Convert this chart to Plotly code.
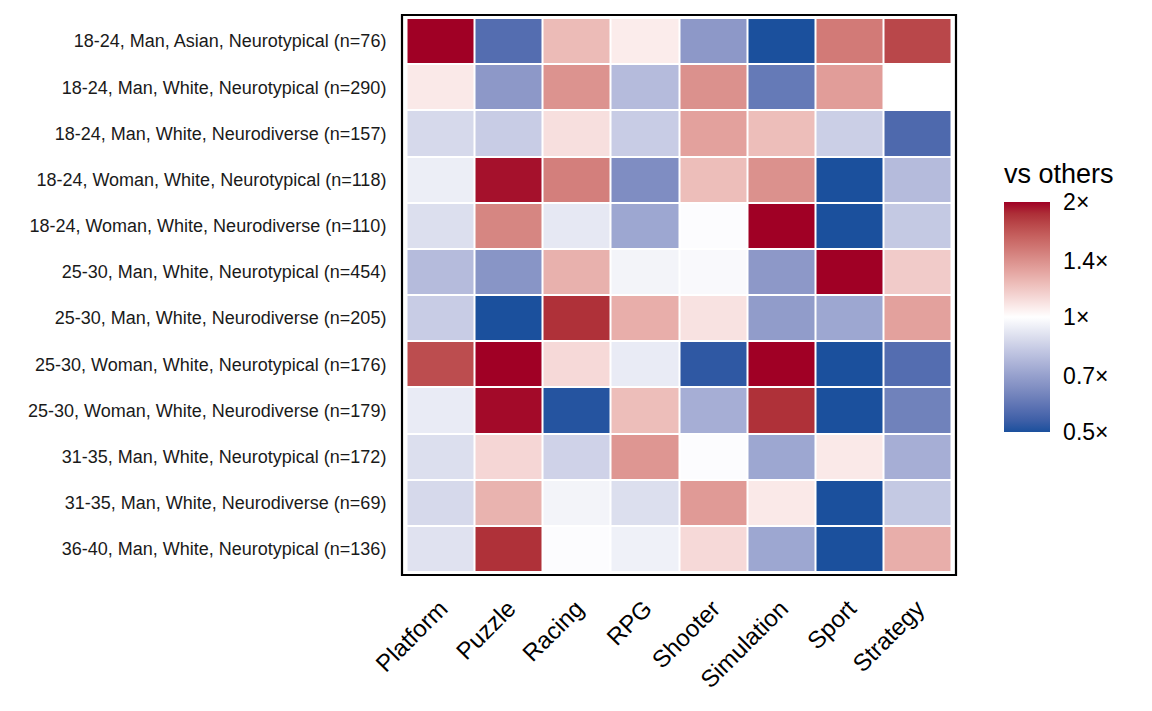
import numpy as np
import plotly.graph_objects as go

groups = [
    "18-24, Man, Asian, Neurotypical (n=76)",
    "18-24, Man, White, Neurotypical (n=290)",
    "18-24, Man, White, Neurodiverse (n=157)",
    "18-24, Woman, White, Neurotypical (n=118)",
    "18-24, Woman, White, Neurodiverse (n=110)",
    "25-30, Man, White, Neurotypical (n=454)",
    "25-30, Man, White, Neurodiverse (n=205)",
    "25-30, Woman, White, Neurotypical (n=176)",
    "25-30, Woman, White, Neurodiverse (n=179)",
    "31-35, Man, White, Neurotypical (n=172)",
    "31-35, Man, White, Neurodiverse (n=69)",
    "36-40, Man, White, Neurotypical (n=136)",
]
genres = ["Platform", "Puzzle", "Racing", "RPG", "Shooter", "Simulation", "Sport", "Strategy"]

# ratio vs others, one list per genre (rows in the order of `groups`)
platform   = [2.20, 1.07, 0.87, 0.94, 0.89, 0.78, 0.83, 1.72, 0.93, 0.89, 0.87, 0.90]
puzzle     = [0.57, 0.68, 0.83, 1.95, 1.45, 0.67, 0.48, 2.20, 1.97, 1.13, 1.26, 1.85]
racing     = [1.23, 1.39, 1.10, 1.48, 0.92, 1.27, 1.85, 1.12, 0.51, 0.85, 0.96, 0.99]
rpg        = [1.06, 0.78, 0.83, 0.65, 0.72, 0.96, 1.28, 0.93, 1.22, 1.38, 0.89, 0.95]
shooter    = [0.68, 1.40, 1.33, 1.22, 0.99, 0.98, 1.09, 0.52, 0.74, 0.99, 1.36, 1.12]
simulation = [0.45, 0.60, 1.22, 1.40, 2.20, 0.68, 0.69, 2.20, 1.85, 0.72, 1.07, 0.72]
sport      = [1.50, 1.35, 0.84, 0.45, 0.45, 2.20, 0.72, 0.45, 0.45, 1.07, 0.45, 0.45]
strategy   = [1.75, 1.00, 0.56, 0.78, 0.82, 1.17, 1.33, 0.57, 0.62, 0.74, 0.82, 1.28]

tick_vals_ratio = [0.5, 0.7, 1, 1.4, 2]
tick_text = ["0.5×", "0.7×", "1×", "1.4×", "2×"]

cols = [platform, puzzle, racing, rpg, shooter, simulation, sport, strategy]
ratio = np.array(cols).T
z = np.clip(np.log2(ratio), -1, 1)


# Lab-interpolated diverging colour scale (like ggplot gradient2)
def srgb_to_lab(c):
    c = np.array(c) / 255.0
    c = np.where(c > 0.04045, ((c + 0.055) / 1.055) ** 2.4, c / 12.92)
    M = np.array([[0.4124, 0.3576, 0.1805], [0.2126, 0.7152, 0.0722], [0.0193, 0.1192, 0.9505]])
    xyz = M @ c
    xyz = xyz / np.array([0.95047, 1.0, 1.08883])
    f = np.where(xyz > 0.008856, np.cbrt(xyz), 7.787 * xyz + 16 / 116)
    return np.array([116 * f[1] - 16, 500 * (f[0] - f[1]), 200 * (f[1] - f[2])])


def lab_to_srgb(lab):
    L, a, b = lab
    fy = (L + 16) / 116
    fx = fy + a / 500
    fz = fy - b / 200
    f = np.array([fx, fy, fz])
    xyz = np.where(f ** 3 > 0.008856, f ** 3, (f - 16 / 116) / 7.787)
    xyz = xyz * np.array([0.95047, 1.0, 1.08883])
    Mi = np.array([[3.2406, -1.5372, -0.4986], [-0.9689, 1.8758, 0.0415], [0.0557, -0.2040, 1.0570]])
    c = Mi @ xyz
    c = np.clip(c, 0, 1)
    c = np.where(c > 0.0031308, 1.055 * c ** (1 / 2.4) - 0.055, 12.92 * c)
    c = np.clip(np.round(c * 255), 0, 255).astype(int)
    return f"rgb({c[0]},{c[1]},{c[2]})"


low = srgb_to_lab((27, 80, 157))
mid = srgb_to_lab((255, 255, 255))
high = srgb_to_lab((160, 0, 37))
colorscale = []
n = 20
for i in range(n + 1):
    t = i / n
    if t <= 0.5:
        lab = low + (mid - low) * (t / 0.5)
    else:
        lab = mid + (high - mid) * ((t - 0.5) / 0.5)
    colorscale.append([t, lab_to_srgb(lab)])

font_family = "Liberation Sans, Arial, sans-serif"

# layout geometry (pixels)
W, H = 1152, 711
L_M, R_M, T_M, B_M = 402, 196, 15, 136
pw, ph = W - L_M - R_M, H - T_M - B_M
cb_left, cb_thick = 1004, 46
cb_center, cb_len = 317, 230


def px_to_paper_x(px):
    return (px - L_M) / pw


def py_to_paper_y(py):
    return (H - B_M - py) / ph


fig = go.Figure(
    go.Heatmap(
        z=z,
        x=list(range(len(genres))),
        y=list(range(len(groups))),
        customdata=ratio,
        zmin=-1,
        zmax=1,
        colorscale=colorscale,
        xgap=2,
        ygap=2,
        hovertemplate="%{customdata:.2f}×<extra></extra>",
        colorbar=dict(
            tickvals=list(np.log2(tick_vals_ratio)),
            ticktext=tick_text,
            tickfont=dict(size=23, color="#000000", family=font_family),
            ticks="outside",
            ticklen=9,
            tickcolor="rgba(0,0,0,0)",
            outlinewidth=0,
            thickness=cb_thick,
            thicknessmode="pixels",
            len=cb_len,
            lenmode="pixels",
            x=px_to_paper_x(cb_left),
            xanchor="left",
            y=py_to_paper_y(cb_center),
            yanchor="middle",
            xpad=0,
            ypad=0,
        ),
    )
)

# white tick marks inside the colour bar (both sides), like ggplot
shapes = [
    dict(type="rect", xref="paper", yref="paper", x0=0, x1=1, y0=0, y1=1,
         line=dict(color="black", width=2.2), fillcolor="rgba(0,0,0,0)")
]
for v in np.log2(tick_vals_ratio[1:-1]):
    py = cb_center - v * (cb_len / 2)
    yp = py_to_paper_y(py)
    for a, b in [(cb_left, cb_left + 9), (cb_left + cb_thick - 9, cb_left + cb_thick)]:
        shapes.append(dict(type="line", xref="paper", yref="paper",
                           x0=px_to_paper_x(a), x1=px_to_paper_x(b), y0=yp, y1=yp,
                           line=dict(color="white", width=1)))

fig.update_layout(
    width=W,
    height=H,
    margin=dict(l=L_M, r=R_M, t=T_M, b=B_M),
    paper_bgcolor="white",
    plot_bgcolor="white",
    font=dict(family=font_family),
    xaxis=dict(
        range=[-0.566, 7.566],
        tickvals=list(range(len(genres))),
        ticktext=genres,
        tickangle=-45,
        tickfont=dict(size=24, color="#000000"),
        showgrid=False,
        zeroline=False,
        showline=False,
        ticks="outside",
        ticklen=9,
        tickcolor="rgba(0,0,0,0)",
        automargin=False,
    ),
    yaxis=dict(
        range=[11.565, -0.565],
        tickvals=list(range(len(groups))),
        ticktext=groups,
        tickfont=dict(size=18, color="#1a1a1a"),
        showgrid=False,
        zeroline=False,
        showline=False,
        ticks="outside",
        ticklen=11,
        tickcolor="rgba(0,0,0,0)",
        automargin=False,
    ),
    shapes=shapes,
    annotations=[
        dict(text="vs others", xref="paper", yref="paper",
             x=px_to_paper_x(cb_left - 2), y=py_to_paper_y(174),
             xanchor="left", yanchor="middle", showarrow=False,
             font=dict(size=27, color="#000000", family=font_family))
    ],
)

fig.write_html(
    "out.html",
    config={"displayModeBar": False},
    post_script="document.body.style.margin='0';document.body.style.overflow='hidden';",
)
